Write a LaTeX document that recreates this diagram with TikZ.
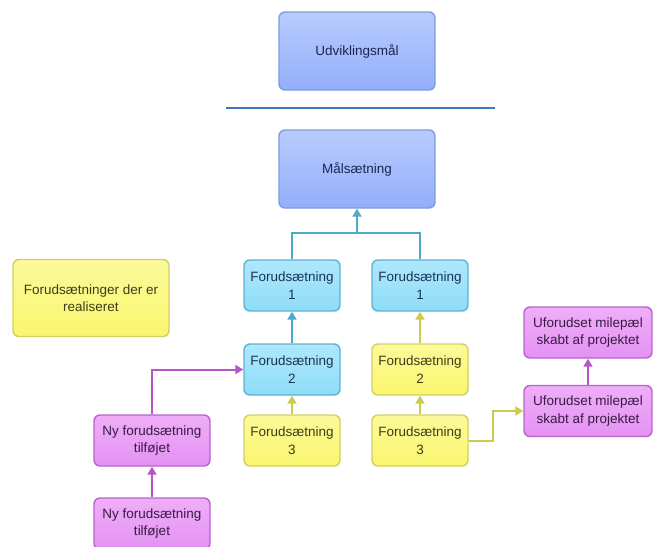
\documentclass[tikz,border=0pt]{standalone}
\usepackage{fontspec}
\setmainfont{Liberation Sans}
\usepackage{xcolor}
\usepackage{tikz}
\usetikzlibrary{calc}
\usetikzlibrary{positioning}
\usetikzlibrary{arrows.meta}

\definecolor{bluetop}{HTML}{B9CCFF}
\definecolor{bluebot}{HTML}{93AEFA}
\definecolor{blueedge}{HTML}{7D9BE2}
\definecolor{bluetext}{HTML}{1A2650}
\definecolor{cyantop}{HTML}{AEE8FC}
\definecolor{cyanbot}{HTML}{8EDCF8}
\definecolor{cyanedge}{HTML}{5CB2D2}
\definecolor{cyantext}{HTML}{1A3450}
\definecolor{yeltop}{HTML}{FCFA9A}
\definecolor{yelbot}{HTML}{FAF66E}
\definecolor{yeledge}{HTML}{D2CF62}
\definecolor{yeltext}{HTML}{3E3C18}
\definecolor{purtop}{HTML}{EFAEF8}
\definecolor{purbot}{HTML}{E392F3}
\definecolor{puredge}{HTML}{B862CC}
\definecolor{purtext}{HTML}{381A42}
\definecolor{cyanline}{HTML}{4FA9C8}
\definecolor{yelline}{HTML}{CBCB4C}
\definecolor{purline}{HTML}{B455C8}
\definecolor{sepline}{HTML}{3F78C2}

\tikzset{
  box/.style={rounded corners=6pt,line width=1.4pt,align=center,
    font=\fontsize{13.5}{17.5}\selectfont,inner sep=0pt},
  goalbox/.style={box,draw=blueedge,top color=bluetop,bottom color=bluebot,
    text=bluetext,minimum width=156pt,minimum height=78pt},
  cyanbox/.style={box,draw=cyanedge,top color=cyantop,bottom color=cyanbot,
    text=cyantext,minimum width=96pt,minimum height=51pt},
  yelbox/.style={box,draw=yeledge,top color=yeltop,bottom color=yelbot,
    text=yeltext,minimum width=96pt,minimum height=51pt},
  purbox/.style={box,draw=puredge,top color=purtop,bottom color=purbot,
    text=purtext,minimum height=51pt},
  link/.style={-{Triangle[length=8pt,width=9pt]},line width=2pt}
}

\begin{document}
\begin{tikzpicture}[x=1pt,y=-1pt]
	\useasboundingbox (0,0) rectangle (653,546);
	\clip (0,0) rectangle (653,546);
	% top part
	\node[goalbox] (udv) at (357,51) {Udviklingsmål};
	\draw[sepline,line width=1.6pt] (226,108) coordinate (sepL) -- (495,108) coordinate (sepR);
	\node[goalbox] (maal) at (357,169) {Målsætning};
	\node[yelbox,minimum width=156pt,minimum height=77pt] (legend) at (91,298) {Forudsætninger der er\\realiseret};
	% left column
	\node[cyanbox] (fa1) at (292,285.5) {Forudsætning\\1};
	\node[cyanbox] (fa2) at (292,369.5) {Forudsætning\\2};
	\node[yelbox] (fa3) at (292,440.5) {Forudsætning\\3};
	% right column
	\node[cyanbox] (fb1) at (420,285.5) {Forudsætning\\1};
	\node[yelbox] (fb2) at (420,369.5) {Forudsætning\\2};
	\node[yelbox] (fb3) at (420,440.5) {Forudsætning\\3};
	% new ones
	\node[purbox,minimum width=116pt] (ny1) at (152,440.5) {Ny forudsætning\\tilføjet};
	\node[purbox,minimum width=116pt] (ny2) at (152,523.5) {Ny forudsætning\\tilføjet};
	\node[purbox,minimum width=128pt] (uf1) at (588,332.5) {Uforudset milepæl\\skabt af projektet};
	\node[purbox,minimum width=128pt] (uf2) at (588,411) {Uforudset milepæl\\skabt af projektet};
	% connectors
	\coordinate (join) at (357,233);
	\draw[cyanline,line width=2pt] (fa1.north) |- (join) -| (fb1.north);
	\draw[link,cyanline] (join) -- (maal.south);
	\draw[link,cyanline] (fa2) -- (fa1);
	\draw[link,yelline] (fa3) -- (fa2);
	\draw[link,yelline] (fb2) -- (fb1);
	\draw[link,yelline] (fb3) -- (fb2);
	\draw[link,yelline] (fb3.east) -- ++(24,0) |- (uf2.west);
	\draw[link,purline] (uf2) -- (uf1);
	\draw[link,purline] (ny2) -- (ny1);
	\draw[link,purline] (ny1.north) |- (fa2.west);
\end{tikzpicture}
\end{document}
